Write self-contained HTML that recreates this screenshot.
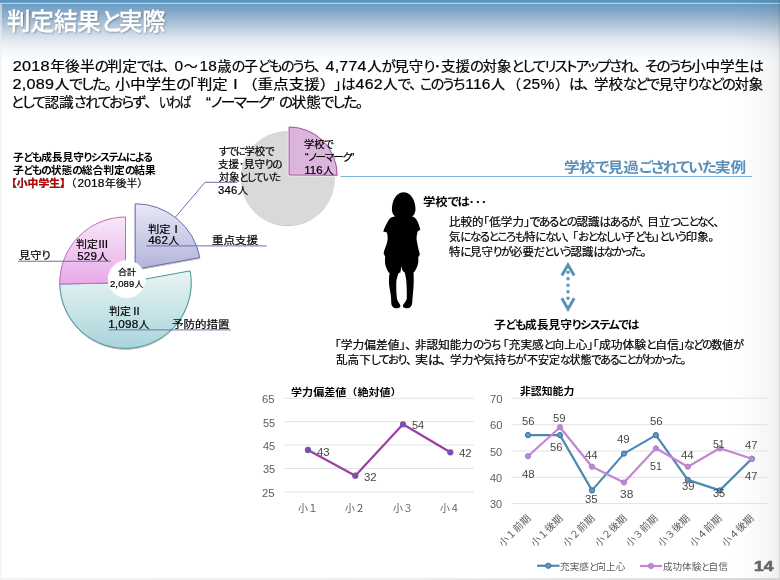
<!DOCTYPE html>
<html lang="ja"><head><meta charset="utf-8"><title>判定結果と実際</title>
<style>
html,body{margin:0;padding:0}
body{width:780px;height:580px;overflow:hidden;position:relative;background:#fff;font-family:"Liberation Sans", "Noto Sans CJK JP", sans-serif;}
.t{position:absolute;white-space:nowrap;line-height:1;transform-origin:0 0;font-feature-settings:"palt";font-kerning:normal}
.t span,.t b{line-height:0}
.d{font-size:1.1em;letter-spacing:.015em;margin:0 .03em 0 .1em}
.pn{letter-spacing:.22em}
.ql{margin-left:.75em}
.qr{margin-right:.6em}
.fw{font-feature-settings:normal}
.k{letter-spacing:-.11em}
.hdr{position:absolute;left:0;top:0;width:780px;height:62px;background:linear-gradient(to bottom,#5c95bf 0,#5c95bf 2.4px,#b6d2e5 2.9px,#b6d2e5 3.7px,#6a9cc3 4.4px,#8caecd 14px,#9db9d3 19px,#b0c6da 25px,#bfd0e0 29px,#cbd9e6 33px,#dce5ee 38.5px,#e9eef4 44px,#f0f4f8 48px,#f8fafc 55px,#fff 62px)}
.redge{position:absolute;right:0;top:0;width:48px;height:580px;background:linear-gradient(to right,rgba(0,0,0,0),rgba(0,0,0,.015) 40%,rgba(0,0,0,.035) 75%,rgba(0,0,0,.06) 96.5%,rgba(0,0,0,.14) 97.5%,rgba(0,0,0,.14))}
.bedge{position:absolute;left:0;bottom:0;width:780px;height:2px;background:linear-gradient(to right,#f4f4f4,#eee 50%,#e2e2e2 85%,#d4d4d4)}
.ledge{position:absolute;left:0;top:4px;width:1.5px;height:576px;background:rgba(238,238,238,.6)}
svg.g{position:absolute;left:0;top:0}
.rt{position:absolute;white-space:nowrap;line-height:1;font-size:10px;color:#5c5c5c;transform:translate(-50%,-50%) rotate(-45deg)}

#tx{position:absolute;left:0;top:0;width:780px;height:580px;will-change:transform}
</style></head>
<body>
<div class="hdr"></div><div class="redge"></div><div class="bedge"></div><div class="ledge"></div>
<svg class="g" width="780" height="580" viewBox="0 0 780 580">
<defs>
<linearGradient id="gp" x1="0" y1="0" x2="0" y2="1"><stop offset="0" stop-color="#f8e8f8"/><stop offset="1" stop-color="#e8aae8"/></linearGradient>
<linearGradient id="gt" x1="0" y1="0" x2="0" y2="1"><stop offset="0" stop-color="#e9f4f4"/><stop offset="1" stop-color="#a9d5da"/></linearGradient>
<linearGradient id="gv" x1="0" y1="0" x2="0" y2="1"><stop offset="0" stop-color="#e8e8f5"/><stop offset="1" stop-color="#b3b3dc"/></linearGradient>
<filter id="sh" x="-10%" y="-10%" width="120%" height="125%"><feDropShadow dx="0" dy="0.9" stdDeviation="0.7" flood-color="#000" flood-opacity=".28"/></filter>
</defs>
<line x1="340.6" y1="176.5" x2="752" y2="176.5" stroke="#7fb2d9" stroke-width="1.1"/>
<circle cx="287.75" cy="178" r="47" fill="#d9d9d9" filter="url(#sh)"/>
<path d="M289.10,175.00 L289.10,127.00 A48.00,48.00 0 0 1 337.10,175.33 Z" fill="#dcb5dc" stroke="#f4f4f4" stroke-width="2.6"/>
<path d="M289.10,175.00 L289.10,127.00 A48.00,48.00 0 0 1 337.10,175.33 Z" fill="#dcb5dc" stroke="#a853a8" stroke-width="1"/>
<polyline points="175.4,217.2 205,182.3 237.4,182.3" fill="none" stroke="#6e6eb0" stroke-width="1"/>
<g filter="url(#sh)">
<path d="M125.50,282.70 L190.12,270.86 A65.70,65.70 0 1 1 59.81,284.03 Z" fill="url(#gt)" stroke="#4f9595" stroke-width="1"/>
<path d="M125.50,282.70 L59.81,284.03 A65.70,65.70 0 0 1 125.50,217.00 Z" fill="url(#gp)" stroke="#c468c4" stroke-width="1"/>
<path d="M135.20,269.40 L135.20,203.70 A65.70,65.70 0 0 1 199.82,257.56 Z" fill="url(#gv)" stroke="#6c6ca8" stroke-width="1"/>
</g>
<circle cx="126.7" cy="279.25" r="18.9" fill="#fff"/>
<line x1="18.25" y1="261.25" x2="110.75" y2="261.25" stroke="#6e6eb0" stroke-width="1"/>
<line x1="146.25" y1="245.9" x2="266.75" y2="245.9" stroke="#6e6eb0" stroke-width="1"/>
<line x1="108.75" y1="329.9" x2="230.75" y2="329.9" stroke="#6e6eb0" stroke-width="1"/>
<path d="M403.6,192.2 C398.5,192.2 394.3,196.5 392.6,203.5 C391.6,207.5 391.6,211.5 393.2,214.2 C393.8,215.3 394.6,215.9 395.4,216.2 C392.8,216.6 390.4,217.4 389,219.4 C386.6,223.2 384.6,227.6 383.2,231.4 L387.0,232.5 C387.5,235 387.8,237.4 387.6,239.4 C387.2,243 385.6,246.8 384.5,249.8 C384.1,251.2 383.8,252.4 383.6,253.6 L385.2,256.4 C384.8,260 384.8,263.5 385.8,266.6 C386.6,269 387.6,271 388.6,272.6 L389.6,273 C389,276.5 388.8,280 389,283.2 C389.3,287.5 390.2,291 390.7,294.4 C391,297 391.2,299 391.2,301 C391.2,303 391.3,304.4 391.9,305.6 C392.8,307.4 394.2,308.3 395.9,308.3 C397.6,308.3 399.2,307.9 399.8,307.2 C400.4,306.4 400.5,305.6 400.2,304.9 C399.2,303 397.4,301 396.9,298.8 C396.3,293 396.1,287 396.3,282 C396.5,279 397.6,276 398.6,273 L400.3,272.5 C400.9,270.2 401.2,268 401.5,265.8 C401.7,267.6 402,269.2 402.5,270.8 L404.7,272.5 C405.4,275.5 406.2,278.8 406.4,282 C406.8,287.5 406.9,293.5 406.8,298.8 C406.4,301 404.2,303 403.1,304.9 C402.7,305.7 402.9,306.8 403.6,307.5 C404.4,308.1 405.8,308.3 407.5,308.3 C409.2,308.3 410.6,307.4 411.5,305.6 C412.2,304.2 412.3,302 412.4,299.9 C412.8,294.5 413.6,288.8 413.7,283.2 C413.8,279.6 413.7,276 413.5,272.5 L414.3,271.9 C415.6,270 416.8,267.8 417.6,265.2 C418.4,262.6 418.5,260 418.2,257.3 L419.9,254.6 C419.2,251.6 418.2,248.6 417.6,245 C417,241.6 416.6,240 416.5,238.8 C416.6,236.4 417,234 417.6,231.6 L420.3,229.8 C419.6,226.2 418.2,222.2 416.4,219.4 C415,217.4 413.6,216.6 411.9,216.2 C412.8,215.9 413.6,215.3 414.2,214.2 C415.8,211.5 415.8,207.5 414.8,203.5 C413.1,196.5 408.7,192.2 403.6,192.2 Z" fill="#000"/>
<polyline points="561.8,275.4 568,264.9 574.2,275.4" fill="none" stroke="#5b93b8" stroke-width="3" stroke-linejoin="miter"/>
<polyline points="561.8,298.2 568,308.9 574.2,298.2" fill="none" stroke="#5b93b8" stroke-width="3" stroke-linejoin="miter"/>
<line x1="568" y1="270.8" x2="568" y2="300" stroke="#5b93b8" stroke-width="3" stroke-dasharray="3 3.5"/>
<line x1="284.25" y1="398.25" x2="473.75" y2="398.25" stroke="#e2e2e2" stroke-width="1"/>
<line x1="284.25" y1="421.6" x2="473.75" y2="421.6" stroke="#e2e2e2" stroke-width="1"/>
<line x1="284.25" y1="445.1" x2="473.75" y2="445.1" stroke="#e2e2e2" stroke-width="1"/>
<line x1="284.25" y1="468.5" x2="473.75" y2="468.5" stroke="#e2e2e2" stroke-width="1"/>
<line x1="284.25" y1="492" x2="473.75" y2="492" stroke="#e2e2e2" stroke-width="1"/>
<polyline points="308,450 355.3,475.7 403,424.3 450.3,452.3" fill="none" stroke="#9c3fa4" stroke-width="2.2" stroke-linejoin="round" stroke-linecap="round"/>
<circle cx="308" cy="450" r="2.6" fill="#a03ea6" stroke="#6060b0" stroke-width="1.1"/>
<circle cx="355.3" cy="475.7" r="2.6" fill="#a03ea6" stroke="#6060b0" stroke-width="1.1"/>
<circle cx="403" cy="424.3" r="2.6" fill="#a03ea6" stroke="#6060b0" stroke-width="1.1"/>
<circle cx="450.3" cy="452.3" r="2.6" fill="#a03ea6" stroke="#6060b0" stroke-width="1.1"/>
<line x1="511.75" y1="398.25" x2="768" y2="398.25" stroke="#e2e2e2" stroke-width="1"/>
<line x1="511.75" y1="424.7" x2="768" y2="424.7" stroke="#e2e2e2" stroke-width="1"/>
<line x1="511.75" y1="451" x2="768" y2="451" stroke="#e2e2e2" stroke-width="1"/>
<line x1="511.75" y1="477.3" x2="768" y2="477.3" stroke="#e2e2e2" stroke-width="1"/>
<line x1="511.75" y1="503.6" x2="768" y2="503.6" stroke="#e2e2e2" stroke-width="1"/>
<polyline points="528.0,435.1 560.0,435.1 592.0,490.4 624.0,453.6 655.9,435.1 687.8,479.9 719.8,490.4 751.8,458.8" fill="none" stroke="#4c8ab3" stroke-width="2.2" stroke-linejoin="round" stroke-linecap="round"/>
<circle cx="528.0" cy="435.1" r="2.6" fill="#6a98c8" stroke="#2f6c98" stroke-width="1"/>
<circle cx="560.0" cy="435.1" r="2.6" fill="#6a98c8" stroke="#2f6c98" stroke-width="1"/>
<circle cx="592.0" cy="490.4" r="2.6" fill="#6a98c8" stroke="#2f6c98" stroke-width="1"/>
<circle cx="624.0" cy="453.6" r="2.6" fill="#6a98c8" stroke="#2f6c98" stroke-width="1"/>
<circle cx="655.9" cy="435.1" r="2.6" fill="#6a98c8" stroke="#2f6c98" stroke-width="1"/>
<circle cx="687.8" cy="479.9" r="2.6" fill="#6a98c8" stroke="#2f6c98" stroke-width="1"/>
<circle cx="719.8" cy="490.4" r="2.6" fill="#6a98c8" stroke="#2f6c98" stroke-width="1"/>
<circle cx="751.8" cy="458.8" r="2.6" fill="#6a98c8" stroke="#2f6c98" stroke-width="1"/>
<polyline points="528.0,456.2 560.0,427.2 592.0,466.7 624.0,482.5 655.9,448.3 687.8,466.7 719.8,448.3 751.8,458.8" fill="none" stroke="#c684d2" stroke-width="2.2" stroke-linejoin="round" stroke-linecap="round"/>
<circle cx="528.0" cy="456.2" r="2.6" fill="#ab93d3" stroke="#b77cc9" stroke-width="1"/>
<circle cx="560.0" cy="427.2" r="2.6" fill="#ab93d3" stroke="#b77cc9" stroke-width="1"/>
<circle cx="592.0" cy="466.7" r="2.6" fill="#ab93d3" stroke="#b77cc9" stroke-width="1"/>
<circle cx="624.0" cy="482.5" r="2.6" fill="#ab93d3" stroke="#b77cc9" stroke-width="1"/>
<circle cx="655.9" cy="448.3" r="2.6" fill="#ab93d3" stroke="#b77cc9" stroke-width="1"/>
<circle cx="687.8" cy="466.7" r="2.6" fill="#ab93d3" stroke="#b77cc9" stroke-width="1"/>
<circle cx="719.8" cy="448.3" r="2.6" fill="#ab93d3" stroke="#b77cc9" stroke-width="1"/>
<circle cx="751.8" cy="458.8" r="2.6" fill="#ab93d3" stroke="#b77cc9" stroke-width="1"/>
<line x1="537" y1="565.75" x2="559.5" y2="565.75" stroke="#4c8ab3" stroke-width="2.2"/><circle cx="548.25" cy="565.75" r="2.6" fill="#6a98c8" stroke="#2f6c98" stroke-width="1"/>
<line x1="640" y1="566" x2="662" y2="566" stroke="#c684d2" stroke-width="2.2"/><circle cx="651" cy="566" r="2.6" fill="#ab93d3" stroke="#b77cc9" stroke-width="1"/>
</svg>
<div id="tx">
<div class="t" style="left:7.02px;top:10px;font-size:24px;font-weight:500;color:#fff;transform:scaleX(0.9772);text-shadow:1px 1px 2px rgba(0,0,0,.35);-webkit-text-stroke:.3px #fff;">判定結果<span class="k">と</span>実際</div>
<div class="t" style="left:10.80px;top:60px;font-size:13.8px;font-weight:400;color:#000;transform:scaleX(1.0727);-webkit-text-stroke:.22px #000;"><span class="d">2018</span>年後半<span class="k">の</span>判定<span class="k">では</span><span class="pn">、</span></div>
<div class="t" style="left:172.86px;top:60px;font-size:13.8px;font-weight:400;color:#000;transform:scaleX(1.0187);-webkit-text-stroke:.22px #000;"><span class="d">0</span>～<span class="d">18</span>歳<span class="k">の</span>子<span class="k">どものうち</span><span class="pn">、</span></div>
<div class="t" style="left:323.80px;top:60px;font-size:13.8px;font-weight:400;color:#000;transform:scaleX(1.0508);-webkit-text-stroke:.22px #000;"><span class="d">4,774</span>人<span class="k">が</span>見守<span class="k">り</span>･支援<span class="k">の</span>対象<span class="k">としてリストアップされ</span><span class="pn">、</span></div>
<div class="t" style="left:644.54px;top:60px;font-size:13.8px;font-weight:400;color:#000;transform:scaleX(1.0590);-webkit-text-stroke:.22px #000;"><span class="k">そのうち</span>小中学生<span class="k">は</span></div>
<div class="t" style="left:10.82px;top:78px;font-size:13.8px;font-weight:400;color:#000;transform:scaleX(1.0632);-webkit-text-stroke:.22px #000;"><span class="d">2,089</span>人<span class="k">でした</span><span class="pn">。</span></div>
<div class="t" style="left:115.16px;top:78px;font-size:13.8px;font-weight:400;color:#000;transform:scaleX(1.1105);-webkit-text-stroke:.22px #000;">小中学生<span class="k">の</span>｢判定Ⅰ</div>
<div class="t" style="left:241.90px;top:78px;font-size:13.8px;font-weight:400;color:#000;transform:scaleX(1.1277);-webkit-text-stroke:.22px #000;"><span class="fw">（</span>重点支援<span class="fw">）</span></div>
<div class="t" style="left:333.75px;top:78px;font-size:13.8px;font-weight:400;color:#000;transform:scaleX(1.0441);-webkit-text-stroke:.22px #000;">｣<span class="k">は</span><span class="d">462</span>人<span class="k">で</span><span class="pn">、</span></div>
<div class="t" style="left:419.64px;top:78px;font-size:13.8px;font-weight:400;color:#000;transform:scaleX(1.0212);-webkit-text-stroke:.22px #000;"><span class="k">このうち</span><span class="d">116</span>人</div>
<div class="t" style="left:507.31px;top:78px;font-size:13.8px;font-weight:400;color:#000;transform:scaleX(1.0234);-webkit-text-stroke:.22px #000;"><span class="fw">（</span><span class="d">25%</span><span class="fw">）</span></div>
<div class="t" style="left:569.18px;top:78px;font-size:13.8px;font-weight:400;color:#000;transform:scaleX(1.0933);-webkit-text-stroke:.22px #000;"><span class="k">は</span><span class="pn">、</span></div>
<div class="t" style="left:594.40px;top:78px;font-size:13.8px;font-weight:400;color:#000;transform:scaleX(1.0438);-webkit-text-stroke:.22px #000;">学校<span class="k">などで</span>見守<span class="k">りなどの</span>対象</div>
<div class="t" style="left:10.83px;top:96px;font-size:13.8px;font-weight:400;color:#000;transform:scaleX(1.0606);-webkit-text-stroke:.22px #000;"><span class="k">として</span>認識<span class="k">されておらず</span><span class="pn">、</span></div>
<div class="t" style="left:158.88px;top:96px;font-size:13.8px;font-weight:400;color:#000;transform:scaleX(0.8528);-webkit-text-stroke:.22px #000;"><span class="k">いわば</span></div>
<div class="t" style="left:206.34px;top:96px;font-size:13.8px;font-weight:400;color:#000;transform:scaleX(1.0665);-webkit-text-stroke:.22px #000;">“<span class="k">ノーマーク</span>”</div>
<div class="t" style="left:279.24px;top:96px;font-size:13.8px;font-weight:400;color:#000;transform:scaleX(1.0611);-webkit-text-stroke:.22px #000;"><span class="k">の</span>状態<span class="k">でした</span><span class="pn">。</span></div>
<div class="t" style="left:12.84px;top:153px;font-size:10.0px;font-weight:700;color:#000;transform:scaleX(1.0681);">子<span class="k">ども</span>成長見守<span class="k">りシステムによる</span></div>
<div class="t" style="left:12.84px;top:166px;font-size:10.0px;font-weight:700;color:#000;transform:scaleX(1.0773);">子<span class="k">どもの</span>状態<span class="k">の</span>総合判定<span class="k">の</span>結果</div>
<div class="t" style="left:5.73px;top:179px;font-size:10.2px;font-weight:400;color:#000;transform:scaleX(1.0604);-webkit-text-stroke:.22px #000;"><b style="color:#c00000"><span class="fw">【</span>小中学生<span class="fw">】</span></b><span class="fw">（</span><span class="d">2018</span>年後半<span class="fw">）</span></div>
<div class="t" style="left:218.66px;top:147px;font-size:10.2px;font-weight:400;color:#000;transform:scaleX(1.0141);-webkit-text-stroke:.22px #000;"><span class="k">すでに</span>学校<span class="k">で</span></div>
<div class="t" style="left:218.32px;top:160px;font-size:10.2px;font-weight:400;color:#000;transform:scaleX(1.0249);-webkit-text-stroke:.22px #000;">支援･見守<span class="k">りの</span></div>
<div class="t" style="left:218.67px;top:173px;font-size:10.2px;font-weight:400;color:#000;transform:scaleX(1.0022);-webkit-text-stroke:.22px #000;">対象<span class="k">としていた</span></div>
<div class="t" style="left:217.32px;top:186px;font-size:10.2px;font-weight:400;color:#000;transform:scaleX(1.0069);-webkit-text-stroke:.22px #000;"><span class="d">346</span>人</div>
<div class="t" style="left:303.73px;top:140px;font-size:10.2px;font-weight:400;color:#000;transform:scaleX(1.0047);-webkit-text-stroke:.22px #000;">学校<span class="k">で</span></div>
<div class="t" style="left:304.65px;top:153px;font-size:10.2px;font-weight:400;color:#000;transform:scaleX(1.0372);-webkit-text-stroke:.22px #000;">“<span class="k">ノーマーク</span>”</div>
<div class="t" style="left:302.96px;top:166px;font-size:10.2px;font-weight:400;color:#000;transform:scaleX(1.0193);-webkit-text-stroke:.22px #000;"><span class="d">116</span>人</div>
<div class="t" style="left:147.63px;top:225px;font-size:10.2px;font-weight:400;color:#000;transform:scaleX(1.1026);-webkit-text-stroke:.22px #000;">判定Ⅰ</div>
<div class="t" style="left:146.92px;top:236px;font-size:10.2px;font-weight:400;color:#000;transform:scaleX(1.0364);-webkit-text-stroke:.22px #000;"><span class="d">462</span>人</div>
<div class="t" style="left:75.89px;top:240px;font-size:10.2px;font-weight:400;color:#000;transform:scaleX(1.0727);-webkit-text-stroke:.22px #000;">判定Ⅲ</div>
<div class="t" style="left:75.78px;top:252px;font-size:10.2px;font-weight:400;color:#000;transform:scaleX(1.0345);-webkit-text-stroke:.22px #000;"><span class="d">529</span>人</div>
<div class="t" style="left:108.89px;top:307px;font-size:10.2px;font-weight:400;color:#000;transform:scaleX(1.0741);-webkit-text-stroke:.22px #000;">判定Ⅱ</div>
<div class="t" style="left:107.16px;top:320px;font-size:10.2px;font-weight:400;color:#000;transform:scaleX(1.0435);-webkit-text-stroke:.22px #000;"><span class="d">1,098</span>人</div>
<div class="t" style="left:118.15px;top:268px;font-size:8.5px;font-weight:400;color:#000;transform:scaleX(1.0561);-webkit-text-stroke:.22px #000;">合計</div>
<div class="t" style="left:109.40px;top:280px;font-size:8.5px;font-weight:400;color:#000;transform:scaleX(1.0156);-webkit-text-stroke:.22px #000;"><span class="d">2,089</span>人</div>
<div class="t" style="left:18.81px;top:250px;font-size:10.75px;font-weight:400;color:#000;transform:scaleX(1.0378);-webkit-text-stroke:.22px #000;">見守<span class="k">り</span></div>
<div class="t" style="left:212.29px;top:235px;font-size:10.75px;font-weight:400;color:#000;transform:scaleX(1.0714);-webkit-text-stroke:.22px #000;">重点支援</div>
<div class="t" style="left:172.29px;top:319px;font-size:10.75px;font-weight:400;color:#000;transform:scaleX(1.0680);-webkit-text-stroke:.22px #000;">予防的措置</div>
<div class="t" style="left:564.47px;top:160px;font-size:14.2px;font-weight:700;color:#5990bb;transform:scaleX(1.1000);">学校<span class="k">で</span>見過<span class="k">ごされていた</span>実例</div>
<div class="t" style="left:423.35px;top:197px;font-size:11.0px;font-weight:700;color:#000;transform:scaleX(1.1250);">学校<span class="k">では</span>･･･</div>
<div class="t" style="left:449.03px;top:217px;font-size:11.4px;font-weight:400;color:#000;transform:scaleX(1.0118);-webkit-text-stroke:.22px #000;">比較的｢低学力｣<span class="k">であるとの</span>認識<span class="k">はあるが</span><span class="pn">、</span>目立<span class="k">つことなく</span><span class="pn">、</span></div>
<div class="t" style="left:449.04px;top:232px;font-size:11.4px;font-weight:400;color:#000;transform:scaleX(0.9929);-webkit-text-stroke:.22px #000;">気<span class="k">になるところも</span>特<span class="k">にない</span><span class="pn">、</span>｢<span class="k">おとなしい</span>子<span class="k">ども</span>｣<span class="k">という</span>印象<span class="pn">。</span></div>
<div class="t" style="left:449.37px;top:247px;font-size:11.4px;font-weight:400;color:#000;transform:scaleX(0.9998);-webkit-text-stroke:.22px #000;">特<span class="k">に</span>見守<span class="k">りが</span>必要<span class="k">だという</span>認識<span class="k">はなかった</span><span class="pn">。</span></div>
<div class="t" style="left:494.14px;top:320px;font-size:11.0px;font-weight:700;color:#000;transform:scaleX(1.0704);">子<span class="k">ども</span>成長見守<span class="k">りシステムでは</span></div>
<div class="t" style="left:335.49px;top:340px;font-size:11.4px;font-weight:400;color:#000;transform:scaleX(1.0280);-webkit-text-stroke:.22px #000;">｢学力偏差値｣<span class="pn">、</span></div>
<div class="t" style="left:415.22px;top:340px;font-size:11.4px;font-weight:400;color:#000;transform:scaleX(1.0152);-webkit-text-stroke:.22px #000;">非認知能力<span class="k">のうち</span></div>
<div class="t" style="left:502.70px;top:340px;font-size:11.4px;font-weight:400;color:#000;transform:scaleX(1.0184);-webkit-text-stroke:.22px #000;">｢充実感<span class="k">と</span>向上心｣</div>
<div class="t" style="left:592.67px;top:340px;font-size:11.4px;font-weight:400;color:#000;transform:scaleX(1.0359);-webkit-text-stroke:.22px #000;">｢成功体験<span class="k">と</span>自信｣</div>
<div class="t" style="left:684.45px;top:340px;font-size:11.4px;font-weight:400;color:#000;transform:scaleX(0.9503);-webkit-text-stroke:.22px #000;"><span class="k">などの</span>数値<span class="k">が</span></div>
<div class="t" style="left:336.06px;top:355px;font-size:11.4px;font-weight:400;color:#000;transform:scaleX(1.0175);-webkit-text-stroke:.22px #000;">乱高下<span class="k">しており</span><span class="pn">、</span></div>
<div class="t" style="left:415.14px;top:355px;font-size:11.4px;font-weight:400;color:#000;transform:scaleX(1.1432);-webkit-text-stroke:.22px #000;">実<span class="k">は</span><span class="pn">、</span></div>
<div class="t" style="left:449.82px;top:355px;font-size:11.4px;font-weight:400;color:#000;transform:scaleX(1.0224);-webkit-text-stroke:.22px #000;">学力<span class="k">や</span>気持<span class="k">ちが</span></div>
<div class="t" style="left:527.36px;top:355px;font-size:11.4px;font-weight:400;color:#000;transform:scaleX(0.9632);-webkit-text-stroke:.22px #000;">不安定<span class="k">な</span>状態<span class="k">であることがわかった</span><span class="pn">。</span></div>
<div class="t" style="left:290.74px;top:388px;font-size:9.7px;font-weight:700;color:#000;transform:scaleX(1.1420);">学力偏差値<span class="fw">（</span>絶対値<span class="fw">）</span></div>
<div class="t" style="left:262.28px;top:394px;font-size:10.5px;font-weight:400;color:#5c5c5c;transform:scaleX(1.0781);">65</div>
<div class="t" style="left:262.65px;top:418px;font-size:10.5px;font-weight:400;color:#5c5c5c;transform:scaleX(1.0455);">55</div>
<div class="t" style="left:262.65px;top:441px;font-size:10.5px;font-weight:400;color:#5c5c5c;transform:scaleX(1.0455);">45</div>
<div class="t" style="left:262.65px;top:464px;font-size:10.5px;font-weight:400;color:#5c5c5c;transform:scaleX(1.0455);">35</div>
<div class="t" style="left:262.28px;top:488px;font-size:10.5px;font-weight:400;color:#5c5c5c;transform:scaleX(1.0781);">25</div>
<div class="t" style="left:317.14px;top:447px;font-size:10.5px;font-weight:400;color:#484848;transform:scaleX(1.0909);">43</div>
<div class="t" style="left:364.39px;top:472px;font-size:10.5px;font-weight:400;color:#484848;transform:scaleX(1.0909);">32</div>
<div class="t" style="left:412.15px;top:420px;font-size:10.5px;font-weight:400;color:#484848;transform:scaleX(1.0455);">54</div>
<div class="t" style="left:459.14px;top:448px;font-size:10.5px;font-weight:400;color:#484848;transform:scaleX(1.0909);">42</div>
<div class="t" style="left:297.92px;top:504px;font-size:10px;font-weight:400;color:#5c5c5c;transform:scaleX(0.9952);"><span class="fw">小１</span></div>
<div class="t" style="left:345.42px;top:504px;font-size:10px;font-weight:400;color:#5c5c5c;transform:scaleX(0.9952);"><span class="fw">小２</span></div>
<div class="t" style="left:392.67px;top:504px;font-size:10px;font-weight:400;color:#5c5c5c;transform:scaleX(0.9952);"><span class="fw">小３</span></div>
<div class="t" style="left:440.17px;top:504px;font-size:10px;font-weight:400;color:#5c5c5c;transform:scaleX(0.9764);"><span class="fw">小４</span></div>
<div class="t" style="left:519.63px;top:387px;font-size:9.7px;font-weight:700;color:#000;transform:scaleX(1.1197);">非認知能力</div>
<div class="t" style="left:489.78px;top:394px;font-size:10.5px;font-weight:400;color:#5c5c5c;transform:scaleX(1.0781);">70</div>
<div class="t" style="left:489.78px;top:420px;font-size:10.5px;font-weight:400;color:#5c5c5c;transform:scaleX(1.0781);">60</div>
<div class="t" style="left:490.15px;top:447px;font-size:10.5px;font-weight:400;color:#5c5c5c;transform:scaleX(1.0455);">50</div>
<div class="t" style="left:490.15px;top:473px;font-size:10.5px;font-weight:400;color:#5c5c5c;transform:scaleX(1.0455);">40</div>
<div class="t" style="left:490.15px;top:499px;font-size:10.5px;font-weight:400;color:#5c5c5c;transform:scaleX(1.0455);">30</div>
<div class="t" style="left:522.14px;top:416px;font-size:10.5px;font-weight:400;color:#484848;transform:scaleX(1.0682);">56</div>
<div class="t" style="left:553.39px;top:413px;font-size:10.5px;font-weight:400;color:#484848;transform:scaleX(1.0682);">59</div>
<div class="t" style="left:549.64px;top:442px;font-size:10.5px;font-weight:400;color:#484848;transform:scaleX(1.0682);">56</div>
<div class="t" style="left:521.64px;top:469px;font-size:10.5px;font-weight:400;color:#484848;transform:scaleX(1.0909);">48</div>
<div class="t" style="left:584.64px;top:450px;font-size:10.5px;font-weight:400;color:#484848;transform:scaleX(1.0909);">44</div>
<div class="t" style="left:584.64px;top:494px;font-size:10.5px;font-weight:400;color:#484848;transform:scaleX(1.0909);">35</div>
<div class="t" style="left:617.14px;top:434px;font-size:10.5px;font-weight:400;color:#484848;transform:scaleX(1.0909);">49</div>
<div class="t" style="left:619.62px;top:489px;font-size:10.5px;font-weight:400;color:#484848;transform:scaleX(1.1364);">38</div>
<div class="t" style="left:649.64px;top:416px;font-size:10.5px;font-weight:400;color:#484848;transform:scaleX(1.0909);">56</div>
<div class="t" style="left:649.66px;top:461px;font-size:10.5px;font-weight:400;color:#484848;transform:scaleX(1.0227);">51</div>
<div class="t" style="left:681.39px;top:450px;font-size:10.5px;font-weight:400;color:#484848;transform:scaleX(1.0909);">44</div>
<div class="t" style="left:681.64px;top:481px;font-size:10.5px;font-weight:400;color:#484848;transform:scaleX(1.0682);">39</div>
<div class="t" style="left:712.92px;top:439px;font-size:10.5px;font-weight:400;color:#484848;transform:scaleX(1.0000);">51</div>
<div class="t" style="left:712.65px;top:488px;font-size:10.5px;font-weight:400;color:#484848;transform:scaleX(1.0455);">35</div>
<div class="t" style="left:745.39px;top:440px;font-size:10.5px;font-weight:400;color:#484848;transform:scaleX(1.0682);">47</div>
<div class="t" style="left:745.39px;top:471px;font-size:10.5px;font-weight:400;color:#484848;transform:scaleX(1.0682);">47</div>
<div class="t" style="left:560.07px;top:562px;font-size:9.5px;font-weight:400;color:#5c5c5c;transform:scaleX(1.0145);">充実感<span class="k">と</span>向上心</div>
<div class="t" style="left:663.36px;top:562px;font-size:9.5px;font-weight:400;color:#5c5c5c;transform:scaleX(1.0052);">成功体験<span class="k">と</span>自信</div>
<div class="t" style="left:754.40px;top:559px;font-size:14.5px;font-weight:700;color:#666;transform:scaleX(1.2000);-webkit-text-stroke:0.6px #666;">14</div>
<div class="rt" style="left:514.5px;top:531.0px">小１前期</div>
<div class="rt" style="left:546.5px;top:531.0px">小１後期</div>
<div class="rt" style="left:578.5px;top:531.0px">小２前期</div>
<div class="rt" style="left:610.5px;top:531.0px">小２後期</div>
<div class="rt" style="left:642.4px;top:531.0px">小３前期</div>
<div class="rt" style="left:674.3px;top:531.0px">小３後期</div>
<div class="rt" style="left:706.3px;top:531.0px">小４前期</div>
<div class="rt" style="left:738.3px;top:531.0px">小４後期</div>
</div>
</body></html>
